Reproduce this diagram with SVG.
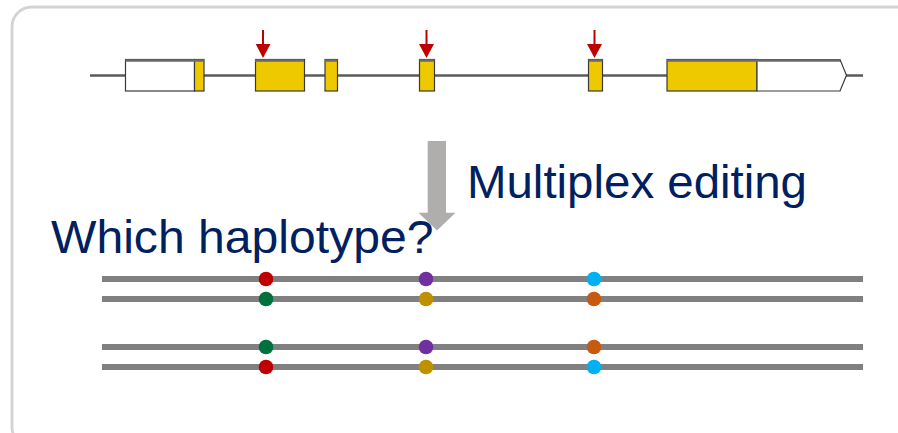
<svg xmlns="http://www.w3.org/2000/svg" width="898" height="433" viewBox="0 0 898 433">
<defs>
<style>
.frame{fill:#fff;stroke:#d3d3d3;stroke-width:2.8}
.backbone{stroke:#5a5a5a;stroke-width:2.5;fill:none}
.utr{fill:#fff;stroke:#3a3a3a;stroke-width:1.2}
.exon{fill:#eec900;stroke:#3a3a3a;stroke-width:1.2}
.topedge{stroke:#6a6a6a;stroke-width:2.5}
.cut{stroke:#c00000;stroke-width:2}
.cuthead{fill:#c00000}
.hap{stroke:#808080;stroke-width:6}
.lbl{font-family:"Liberation Sans",Arial,sans-serif;font-size:46px;fill:#002060}
</style>
</defs>
<rect class="frame" x="12" y="7" width="910" height="440" rx="20"/>
<g id="gene">
<line class="backbone" x1="90" y1="75.5" x2="863" y2="75.5"/>
<rect class="utr" x="125.5" y="59.5" width="69" height="31.5"/>
<rect class="exon" x="194.5" y="59.5" width="9.5" height="31.5"/>
<rect class="exon" x="255.5" y="59.5" width="49" height="31.5"/>
<rect class="exon" x="325" y="59.5" width="12.5" height="31.5"/>
<rect class="exon" x="419.5" y="59.5" width="15" height="31.5"/>
<rect class="exon" x="588.5" y="59.5" width="14" height="31.5"/>
<rect class="exon" x="667" y="59.5" width="90" height="31.5"/>
<path class="utr" d="M757 59.5 H840 L846.5 75.3 L840 91 H757 Z"/>
<line class="topedge" x1="125.5" y1="60.5" x2="304.5" y2="60.5" stroke-dasharray="78.5 51 49 1000"/>
<line class="topedge" x1="325" y1="60.5" x2="337.5" y2="60.5"/>
<line class="topedge" x1="419.5" y1="60.5" x2="434.5" y2="60.5"/>
<line class="topedge" x1="588.5" y1="60.5" x2="602.5" y2="60.5"/>
<line class="topedge" x1="667" y1="60.5" x2="840" y2="60.5"/>
</g>
<g id="cut-sites">
<g id="cut1"><line class="cut" x1="263" y1="30" x2="263" y2="46"/><polygon class="cuthead" points="255.7,44 270.5,44 263,58"/></g>
<g id="cut2"><line class="cut" x1="426.5" y1="30" x2="426.5" y2="46"/><polygon class="cuthead" points="419,44 434,44 426.5,58"/></g>
<g id="cut3"><line class="cut" x1="594.5" y1="30" x2="594.5" y2="46"/><polygon class="cuthead" points="587,44 602,44 594.5,58"/></g>
</g>
<g id="connectors">
<polygon fill="#b0adad" points="427.7,141 446,141 446,212.7 455.5,212.7 437,230.5 418.5,212.7 427.7,212.7"/>
</g>
<g id="label-multiplex"><text class="lbl" x="467" y="197.7" textLength="340" lengthAdjust="spacingAndGlyphs">Multiplex editing</text></g>
<g id="label-haplotype"><text class="lbl" x="51" y="252.7" textLength="382.5" lengthAdjust="spacingAndGlyphs">Which haplotype?</text></g>
<g id="haplotypes">
<line class="hap" x1="102" y1="279" x2="863" y2="279"/>
<line class="hap" x1="102" y1="299" x2="863" y2="299"/>
<line class="hap" x1="102" y1="347" x2="863" y2="347"/>
<line class="hap" x1="102" y1="367" x2="863" y2="367"/>
<circle cx="266" cy="279" r="7.3" fill="#c00000"/>
<circle cx="426" cy="279" r="7.3" fill="#7030a0"/>
<circle cx="594" cy="279" r="7.3" fill="#00b0f0"/>
<circle cx="266" cy="299" r="7.3" fill="#00703c"/>
<circle cx="426" cy="299" r="7.3" fill="#bf9000"/>
<circle cx="594" cy="299" r="7.3" fill="#c55a11"/>
<circle cx="266" cy="347" r="7.3" fill="#00703c"/>
<circle cx="426" cy="347" r="7.3" fill="#7030a0"/>
<circle cx="594" cy="347" r="7.3" fill="#c55a11"/>
<circle cx="266" cy="367" r="7.3" fill="#c00000"/>
<circle cx="426" cy="367" r="7.3" fill="#bf9000"/>
<circle cx="594" cy="367" r="7.3" fill="#00b0f0"/>
</g>
</svg>
